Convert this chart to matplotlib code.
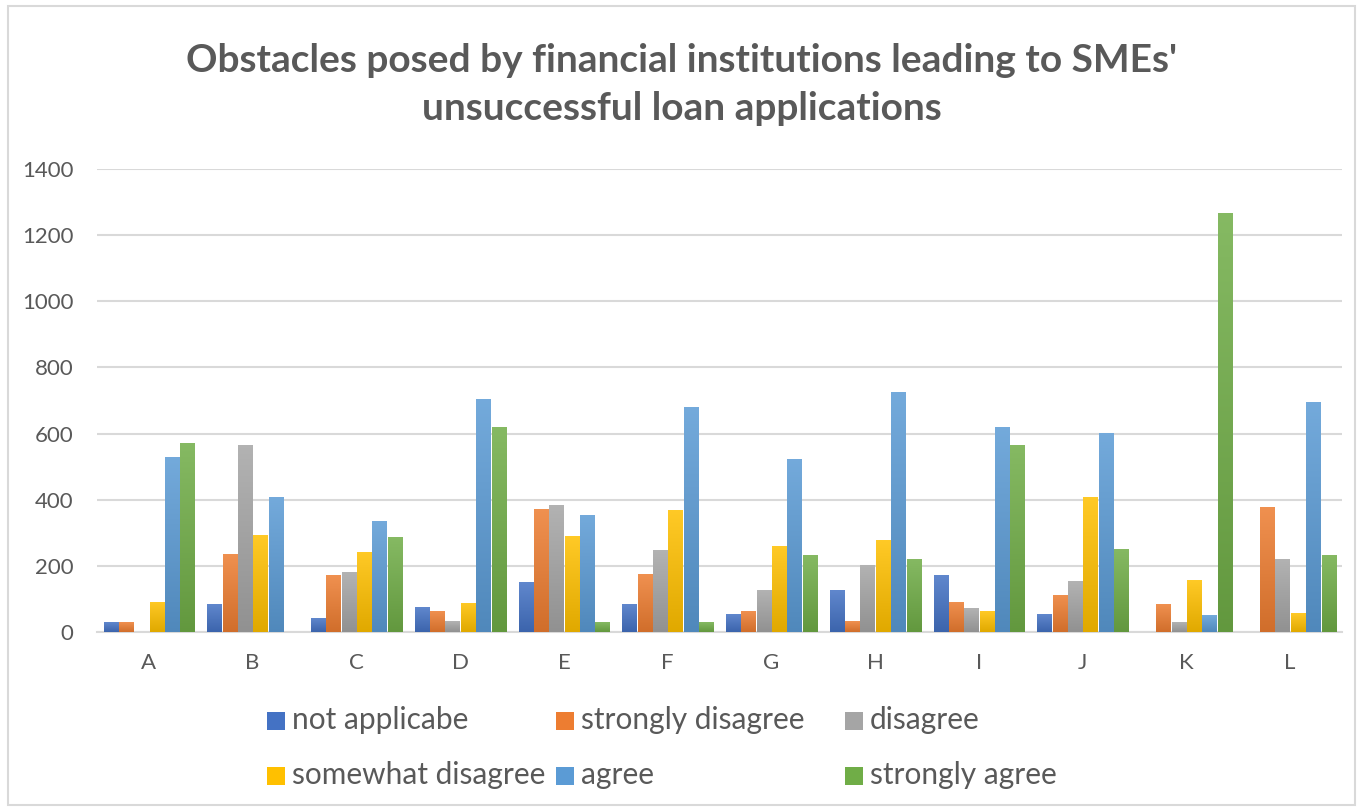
import numpy as np
import matplotlib
matplotlib.use("Agg")
import matplotlib.pyplot as plt
from matplotlib.patches import Rectangle
from matplotlib.colors import to_rgb

categories = ["A", "B", "C", "D", "E", "F", "G", "H", "I", "J", "K", "L"]
series_names = ["not applicabe", "strongly disagree", "disagree",
                "somewhat disagree", "agree", "strongly agree"]
not_applicabe = [29, 84, 41, 75, 150, 84, 53, 126, 171, 53, 0, 0]
strongly_disagree = [29, 237, 171, 62, 373, 174, 62, 32, 92, 113, 84, 379]
disagree = [0, 566, 180, 32, 385, 247, 126, 201, 71, 153, 29, 222]
somewhat_disagree = [92, 292, 243, 89, 289, 370, 259, 277, 62, 409, 156, 56]
agree = [530, 409, 337, 705, 355, 681, 524, 726, 620, 602, 50, 696]
strongly_agree = [572, 0, 286, 620, 29, 29, 234, 222, 566, 252, 1266, 234]
yticks = [0, 200, 400, 600, 800, 1000, 1200, 1400]

series = [not_applicabe, strongly_disagree, disagree, somewhat_disagree, agree, strongly_agree]
colors = ["#4472C4", "#ED7D31", "#A5A5A5", "#FFC000", "#5B9BD5", "#70AD47"]

FONT = ["Lato", "DejaVu Sans"]
TXT = "#595959"

fig = plt.figure(figsize=(13.63, 8.07), dpi=100)
fig.patch.set_facecolor("white")
fig.patches.append(Rectangle((0.006, 0.003), 0.988, 0.99, transform=fig.transFigure,
                             fill=False, edgecolor="#D9D9D9", linewidth=1.5))

ax = fig.add_axes([0.0712, 0.2169, 0.9134, 0.5737])
x = np.arange(len(categories))
step = 0.148
width = 0.135


def shade(c, f):
    r = np.array(to_rgb(c))
    if f > 0:
        return r + (1 - r) * f
    return r * (1 + f)


for i, (vals, col) in enumerate(zip(series, colors)):
    bars = ax.bar(x + (i - 2.5) * step, vals, width=width, color=col,
                  label=series_names[i], zorder=3, linewidth=0)
    top = shade(col, 0.15)
    bot = shade(col, -0.12)
    grad = np.linspace(0, 1, 64)[:, None, None]
    img = bot[None, None, :] * (1 - grad) + top[None, None, :] * grad
    for b in bars:
        h = b.get_height()
        if h <= 0:
            continue
        x0 = b.get_x()
        im = ax.imshow(img, extent=(x0, x0 + b.get_width(), 0, h), origin="lower",
                       aspect="auto", zorder=4, interpolation="bilinear")
        im.set_clip_path(b)

ax.set_xlim(-0.5, len(categories) - 0.5)
ax.set_ylim(0, 1400)
ax.set_yticks(yticks)
ax.set_yticklabels([str(v) for v in yticks], fontsize=16, color=TXT, family=FONT)
ax.set_xticks(x)
ax.set_xticklabels(categories, fontsize=16, color=TXT, family=FONT)
ax.tick_params(axis="both", length=0)
ax.tick_params(axis="y", pad=17)
ax.tick_params(axis="x", pad=15)
ax.grid(axis="y", color="#D9D9D9", linewidth=1.5, zorder=0)
for s in ["top", "right", "left"]:
    ax.spines[s].set_visible(False)
ax.spines["bottom"].set_color("#D9D9D9")
ax.spines["bottom"].set_linewidth(1.5)

fig.text(0.5, 1 - 60 / 807, "Obstacles posed by financial institutions leading to SMEs'",
         ha="center", va="center", fontsize=28, fontweight="bold", color=TXT, family=FONT)
fig.text(0.5, 1 - 109 / 807, "unsuccessful loan applications",
         ha="center", va="center", fontsize=28, fontweight="bold", color=TXT, family=FONT)

# legend (manual layout, like Excel)
col_x = [267, 556, 845]
row_y = [721, 776]
W, H = 1363, 807
order = [[0, 1, 2], [3, 4, 5]]
for r, row in enumerate(order):
    for c, idx in enumerate(row):
        px = col_x[c]
        py = row_y[r]
        fig.patches.append(Rectangle((px / W, 1 - (py + 9) / H), 18 / W, 18 / H,
                                     transform=fig.transFigure, facecolor=colors[idx],
                                     edgecolor="none"))
        fig.text((px + 25) / W, 1 - (py - 1) / H, series_names[idx], fontsize=21.5, color=TXT,
                 family=FONT, ha="left", va="center")

fig.savefig("out.png", dpi=100)
